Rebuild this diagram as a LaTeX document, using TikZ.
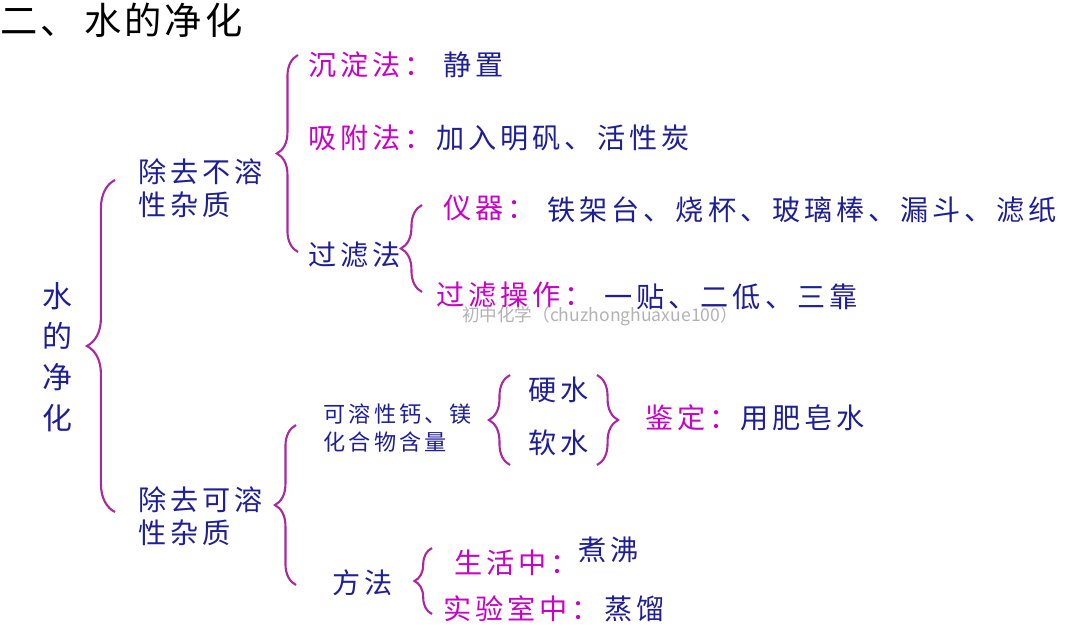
\documentclass[tikz,border=0pt]{standalone}
\usepackage{fontspec}
\usetikzlibrary{decorations.pathreplacing}
\newfontfamily\cjk[LetterSpace=14]{Noto Sans CJK SC}
\newfontfamily\cjkt[LetterSpace=8]{Noto Sans CJK SC}
\definecolor{tblue}{RGB}{30,30,150}
\definecolor{tmag}{RGB}{200,0,200}
\definecolor{bcol}{RGB}{170,40,160}
\tikzset{
  b/.style={font=\cjk\fontsize{8}{9.5}\selectfont, text=tblue, inner sep=0pt, anchor=west},
  m/.style={b, text=tmag},
  s/.style={b, font=\cjk\fontsize{6.3}{8}\selectfont},
  br/.style={draw=bcol, line width=0.6pt, decorate, decoration={brace, amplitude=6pt}},
}
\begin{document}
\begin{tikzpicture}[x=0.01cm,y=-0.01cm]
\useasboundingbox (0,0) rectangle (1080,639);
\node[anchor=west, inner sep=0pt, font=\cjkt\fontsize{10.6}{12}\selectfont] (title) at (0,20) {二、\,水的净化};
\node[b, anchor=center, align=center, font=\cjk\fontsize{8.5}{11.6}\selectfont] (root) at (57,357) {水\\的\\净\\化};
\draw[br, decoration={amplitude=8pt}] (115,512) -- (115,180);
\node[b, align=left] (a) at (138,188) {除去不溶\\性杂质};
\draw[br] (298,252) -- (298,55);
\node[m] (a1) at (308,65) {沉淀法：};
\node[b] (a1v) at (443,65) {静置};
\node[m] (a2) at (308,138) {吸附法：};
\node[b] (a2v) at (436,138) {加入明矾、活性炭};
\node[b] (a3) at (308,255) {过滤法};
\draw[br] (422,292) -- (422,205);
\node[m] (a31) at (443,208) {仪器：};
\node[b] (a31v) at (547,210) {铁架台、烧杯、玻璃棒、漏斗、滤纸};
\node[m] (a32) at (436,295) {过滤操作：};
\node[b] (a32v) at (604,297) {一贴、二低、三靠};
\node[anchor=center, text=black!30, font=\fontspec{Noto Sans CJK SC}\fontsize{5}{6}\selectfont] (wm) at (600,316) {初中化学（chuzhonghuaxue100）};
\node[b, align=left] (c) at (138,516) {除去可溶\\性杂质};
\draw[br] (296,585) -- (296,425);
\node[s, align=left] (c1) at (323,428) {可溶性钙、镁\\化合物含量};
\draw[br] (510,465) -- (510,375);
\node[b] (h) at (528,390) {硬水};
\node[b] (r) at (528,443) {软水};
\draw[br] (597,375) -- (597,465);
\node[m] (jd) at (645,418) {鉴定：};
\node[b] (jdv) at (740,418) {用肥皂水};
\node[b] (ff) at (332,583) {方法};
\draw[br, decoration={amplitude=5pt}] (432,614) -- (432,548);
\node[m] (f1) at (454,563) {生活中：};
\node[b] (f1v) at (578,550) {煮沸};
\node[m] (f2) at (443,609) {实验室中：};
\node[b] (f2v) at (604,609) {蒸馏};
\end{tikzpicture}
\end{document}
